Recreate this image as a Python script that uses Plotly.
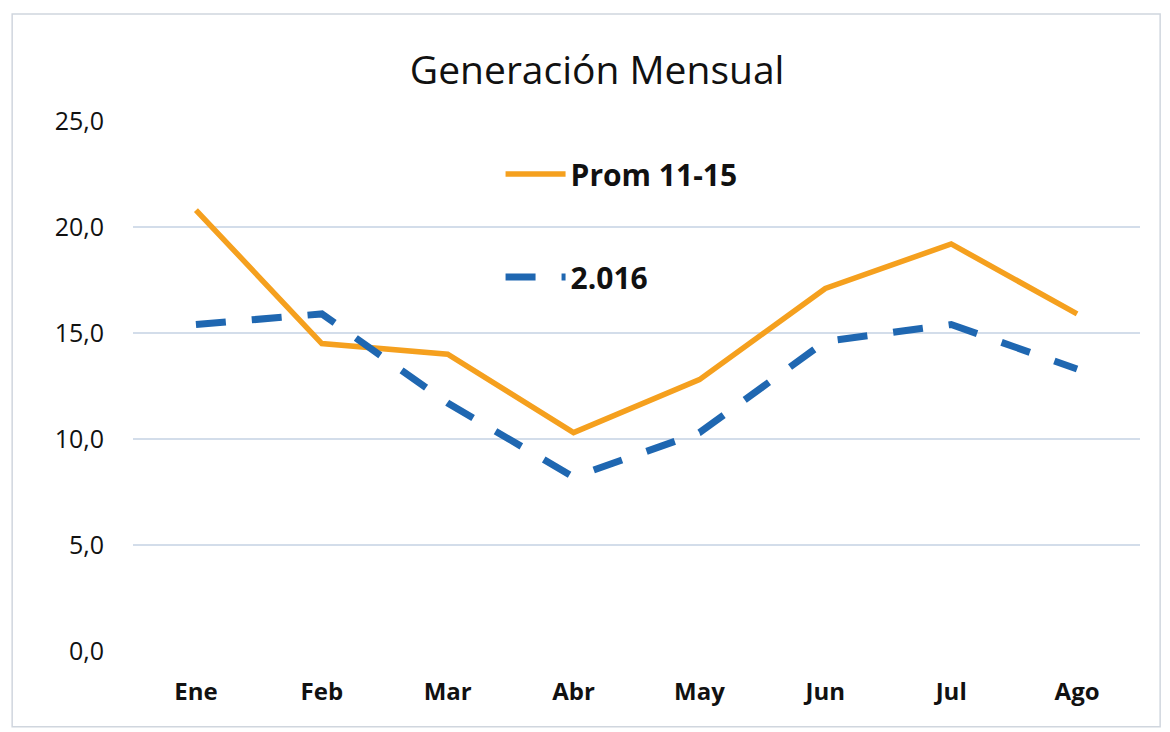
import plotly.graph_objects as go

months = ["Ene", "Feb", "Mar", "Abr", "May", "Jun", "Jul", "Ago"]
prom_11_15 = [20.8, 14.5, 14.0, 10.3, 12.8, 17.1, 19.2, 15.9]
y_2016 = [15.4, 15.9, 11.7, 8.2, 10.3, 14.6, 15.4, 13.3]
y_ticks = [0, 5, 10, 15, 20, 25]
y_tick_labels = ["0,0", "5,0", "10,0", "15,0", "20,0", "25,0"]

fig = go.Figure()
fig.add_trace(go.Scatter(
    x=months, y=prom_11_15, mode="lines", name="Prom 11-15",
    line=dict(color="#F5A01E", width=5.5), legendgroup="a",
))
fig.add_trace(go.Scatter(
    x=months, y=y_2016, mode="lines", name="2.016",
    line=dict(color="#1F67B1", width=7, dash="30px,26px"), legendgroup="b",
))

fig.update_layout(
    width=1162, height=724,
    paper_bgcolor="white", plot_bgcolor="white",
    margin=dict(l=125, r=30, t=113, b=81),
    title=dict(text="Generación Mensual", x=0.507, xanchor="center", y=0.914, yanchor="middle",
               font=dict(family="Open Sans", size=39, color="#111111")),
    showlegend=True,
    legend=dict(x=0.365, y=0.949, xanchor="left", yanchor="top",
                bgcolor="rgba(0,0,0,0)", traceorder="grouped", tracegroupgap=61,
                font=dict(family="Open Sans", size=30, color="#111111", weight="bold"),
                itemwidth=60),
    xaxis=dict(showgrid=False, showline=False, ticks="", range=[-0.5, 7.5],
               tickfont=dict(family="Open Sans", size=24, color="#111111", weight="bold"),
               ticklabelstandoff=24),
    yaxis=dict(range=[0, 25], tickvals=y_ticks, ticktext=y_tick_labels,
               showgrid=True, gridcolor="#D3DDEA", gridwidth=1.5, zeroline=False,
               showline=False, ticks="",
               tickfont=dict(family="Open Sans", size=25, color="#111111"),
               ticklabelstandoff=28),
    shapes=[dict(type="rect", xref="paper", yref="paper",
                 x0=-0.120, x1=1.020, y0=-0.143, y1=1.202,
                 line=dict(color="#D0D6DE", width=1.5))],
)

fig.write_html("out.html")
